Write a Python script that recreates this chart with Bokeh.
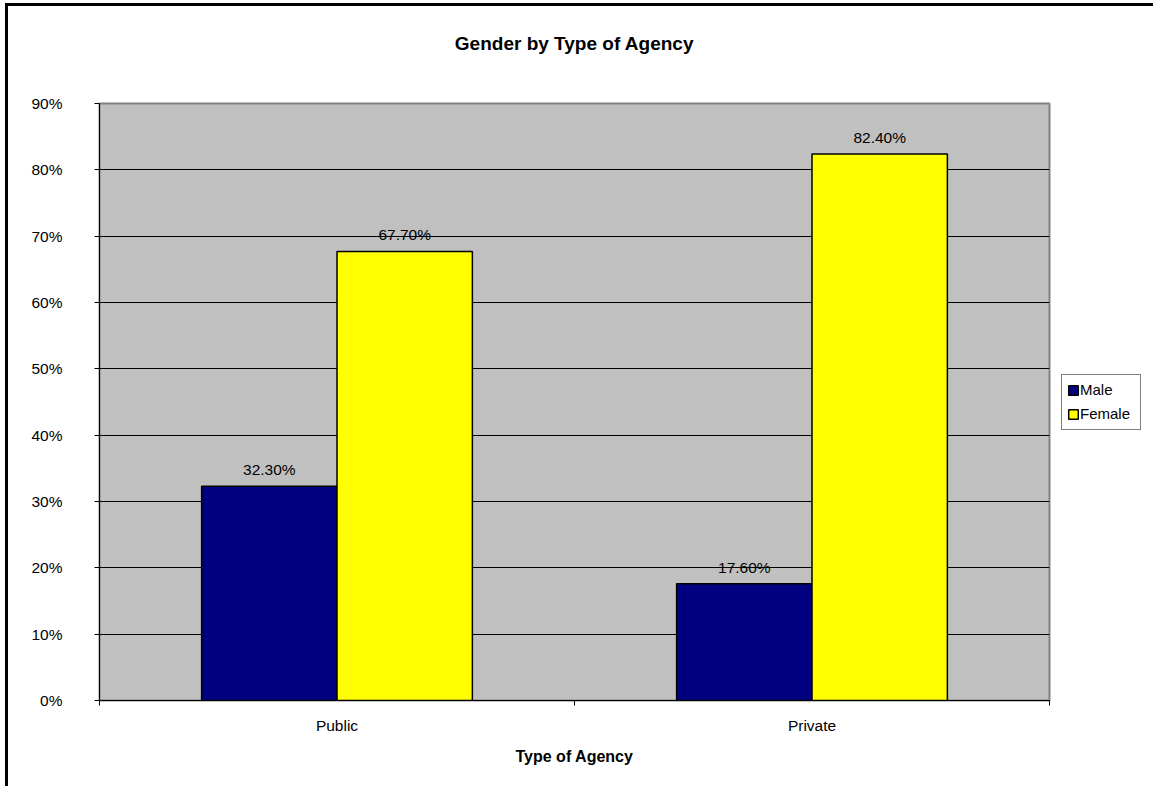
from bokeh.plotting import figure
from bokeh.models import (Range1d, FixedTicker, NumeralTickFormatter, Legend, LegendItem,
                          ColumnDataSource, LinearAxis)
from bokeh.embed import file_html
from bokeh.resources import INLINE

title_text = "Gender by Type of Agency"
x_title = "Type of Agency"
categories = ["Public", "Private"]
male = [0.323, 0.176]
female = [0.677, 0.824]
male_labels = ["32.30%", "17.60%"]
female_labels = ["67.70%", "82.40%"]
y_ticks = [0.0, 0.1, 0.2, 0.3, 0.4, 0.5, 0.6, 0.7, 0.8, 0.9]

BAR_W = 0.285
FONT = "Liberation Sans"

centers = [i + 0.5 for i in range(len(categories))]
src_m = ColumnDataSource(dict(x=[c - BAR_W / 2 for c in centers], top=male, lab=male_labels))
src_f = ColumnDataSource(dict(x=[c + BAR_W / 2 for c in centers], top=female, lab=female_labels))

p = figure(frame_width=950, frame_height=597, output_backend="svg", toolbar_location=None,
           x_range=Range1d(0, len(categories)), y_range=Range1d(0, 0.9),
           min_border_left=91, min_border_right=0, min_border_top=97, min_border_bottom=86)
p.styles = {"border-left": "3px solid black", "border-top": "3px solid black",
            "margin-left": "5px", "margin-top": "3px"}

xa = p.below[0]
ya = p.left[0]

p.background_fill_color = "#C0C0C0"
p.border_fill_color = "white"
p.outline_line_color = "#808080"
p.outline_line_width = 2

r_m = p.vbar(x="x", top="top", width=BAR_W, bottom=0, source=src_m,
             fill_color="#000080", line_color="black", line_width=1.5)
r_f = p.vbar(x="x", top="top", width=BAR_W, bottom=0, source=src_f,
             fill_color="#FFFF00", line_color="black", line_width=1.5)

for src in (src_m, src_f):
    p.text(x="x", y="top", text="lab", source=src, text_align="center",
           text_baseline="bottom", y_offset=-8, text_font_size="15.5px",
           text_font={"value": FONT}, text_color="black")

# chart title, drawn as the label of an empty axis above the plot area
top_axis = LinearAxis(ticker=FixedTicker(ticks=[]), axis_label=title_text)
top_axis.axis_line_color = None
top_axis.major_tick_line_color = None
top_axis.minor_tick_line_color = None
top_axis.major_tick_out = 0
top_axis.minor_tick_out = 0
top_axis.major_label_standoff = 0
top_axis.axis_label_standoff = 50
top_axis.axis_label_text_font = FONT
top_axis.axis_label_text_font_size = "19px"
top_axis.axis_label_text_font_style = "bold"
top_axis.axis_label_text_color = "black"
p.add_layout(top_axis, "above")

# grid
p.xgrid.visible = False
p.ygrid.ticker = FixedTicker(ticks=y_ticks)
p.ygrid.grid_line_color = "black"
p.ygrid.grid_line_width = 1

# y axis
ya.ticker = FixedTicker(ticks=y_ticks)
ya.formatter = NumeralTickFormatter(format="0%")
ya.major_label_text_font = FONT
ya.major_label_text_font_size = "15.5px"
ya.major_label_text_color = "black"
ya.major_tick_out = 5
ya.major_tick_in = 0
ya.minor_tick_line_color = None
ya.major_label_standoff = 32
ya.axis_line_color = "black"
ya.major_tick_line_color = "black"

# x axis
xa.ticker = FixedTicker(ticks=centers, minor_ticks=list(range(len(categories) + 1)))
xa.major_label_overrides = {c: name for c, name in zip(centers, categories)}
xa.major_tick_line_color = None
xa.major_tick_out = 5
xa.major_tick_in = 0
xa.minor_tick_out = 5
xa.minor_tick_in = 0
xa.minor_tick_line_color = "black"
xa.major_label_standoff = 11
xa.major_label_text_font = FONT
xa.major_label_text_font_size = "15.5px"
xa.major_label_text_color = "black"
xa.axis_line_color = "black"
xa.axis_label = x_title
xa.axis_label_text_font = FONT
xa.axis_label_text_font_size = "16px"
xa.axis_label_text_font_style = "bold"
xa.axis_label_text_color = "black"
xa.axis_label_standoff = 11

legend = Legend(items=[LegendItem(label="Male", renderers=[r_m]),
                       LegendItem(label="Female", renderers=[r_f])],
                location="center_left")
legend.label_text_font = FONT
legend.label_text_font_size = "15px"
legend.label_text_color = "black"
legend.glyph_width = 12
legend.glyph_height = 12
legend.label_height = 20
legend.label_width = 55
legend.label_standoff = 1
legend.spacing = 4
legend.padding = 5
legend.margin = 12
legend.border_line_color = "black"
legend.border_line_width = 1
legend.background_fill_color = "white"
p.add_layout(legend, "right")

open("out.html", "w").write(file_html(p, INLINE))
